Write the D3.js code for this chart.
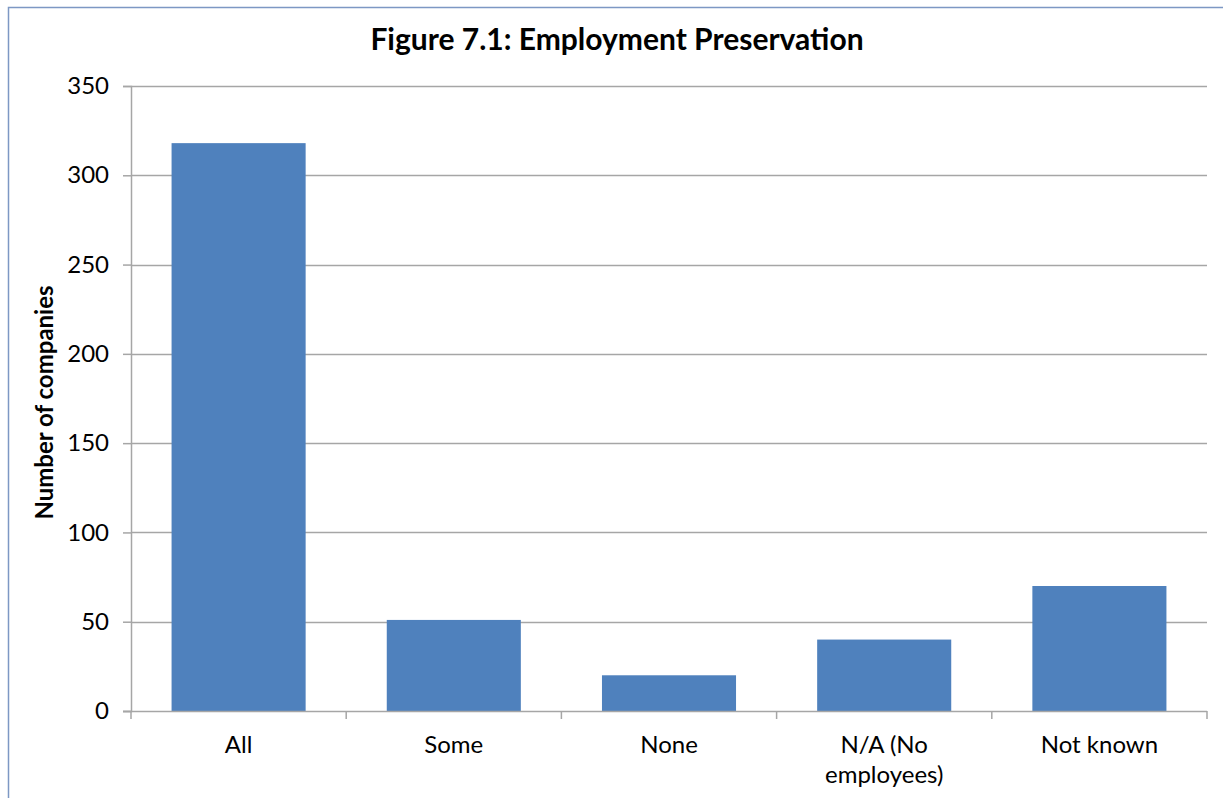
<!DOCTYPE html>
<html>
<head>
<meta charset="utf-8">
<script src="https://cdnjs.cloudflare.com/ajax/libs/d3/7.8.5/d3.min.js"></script>
<style>
  html, body { margin: 0; padding: 0; background: #fff; }
  svg { display: block; }
  text { font-family: Lato, "Open Sans", sans-serif; fill: #000; }
</style>
</head>
<body>
<svg id="chart" width="1223" height="798"></svg>
<script>
const categories = ["All", "Some", "None", "N/A (No|employees)", "Not known"];
const values = [318, 51, 20, 40, 70];
const yTicks = [0, 50, 100, 150, 200, 250, 300, 350];
const titleText = "Figure 7.1: Employment Preservation";
const yAxisTitle = "Number of companies";

const svg = d3.select("#chart");
const m = { left: 131, right: 1207, top: 86, bottom: 711 };

// chart outline
svg.append("rect")
  .attr("x", 8.5).attr("y", 7.5)
  .attr("width", 1400).attr("height", 1000)
  .attr("fill", "none").attr("stroke", "#7d98c4").attr("stroke-width", 1.5);

const x = d3.scaleBand()
  .domain(categories)
  .range([m.left, m.right])
  .paddingInner(0.377)
  .paddingOuter(0.1885);

const y = d3.scaleLinear().domain([0, 350]).range([m.bottom, m.top]);

// gridlines
svg.append("g")
  .selectAll("line")
  .data(yTicks.filter(d => d > 0))
  .join("line")
  .attr("x1", m.left).attr("x2", m.right)
  .attr("y1", d => Math.round(y(d)) + 0.5).attr("y2", d => Math.round(y(d)) + 0.5)
  .attr("stroke", "#a6a6a6").attr("stroke-width", 1.5);

// bars
svg.append("g")
  .selectAll("rect")
  .data(values)
  .join("rect")
  .attr("x", (d, i) => x(categories[i]))
  .attr("y", d => y(d))
  .attr("width", x.bandwidth())
  .attr("height", d => y(0) - y(d))
  .attr("fill", "#4f81bd");

// y axis
const yAxis = d3.axisLeft(y).tickValues(yTicks).tickSize(8).tickPadding(14).tickFormat(d3.format("d"));
const gy = svg.append("g").attr("transform", `translate(${m.left},0)`).call(yAxis);
gy.select(".domain").attr("stroke", "#a6a6a6").attr("stroke-width", 1.5);
gy.selectAll(".tick line").attr("stroke", "#a6a6a6").attr("stroke-width", 1.5);
gy.selectAll(".tick text").style("font-size", "24px").attr("fill", "#000");

// x axis with ticks at category boundaries
const gx = svg.append("g");
gx.append("line")
  .attr("x1", m.left - 8).attr("x2", m.right)
  .attr("y1", m.bottom + 0.5).attr("y2", m.bottom + 0.5)
  .attr("stroke", "#a6a6a6").attr("stroke-width", 1.5);
const step = x.step();
const boundaries = d3.range(categories.length + 1).map(i => m.left + i * step);
gx.selectAll("line.bt")
  .data(boundaries)
  .join("line")
  .attr("class", "bt")
  .attr("x1", d => d).attr("x2", d => d)
  .attr("y1", m.bottom).attr("y2", m.bottom + 8)
  .attr("stroke", "#a6a6a6").attr("stroke-width", 1.5);

gx.selectAll("text.cat")
  .data(categories)
  .join("text")
  .attr("class", "cat")
  .attr("text-anchor", "middle")
  .style("font-size", "24px")
  .each(function(d) {
    const lines = d.split("|");
    const t = d3.select(this);
    lines.forEach((ln, i) => {
      t.append("tspan")
        .attr("x", x(d) + x.bandwidth() / 2)
        .attr("y", 753 + i * 30)
        .text(ln);
    });
  });

// title
svg.append("text")
  .attr("x", 617).attr("y", 50)
  .attr("text-anchor", "middle")
  .style("font-size", "30px").style("font-weight", "bold")
  .text(titleText);

// y axis title
svg.append("text")
  .attr("transform", `translate(53,${(m.top + m.bottom) / 2 + 4}) rotate(-90)`)
  .attr("text-anchor", "middle")
  .style("font-size", "24px").style("font-weight", "bold")
  .text(yAxisTitle);
</script>
</body>
</html>
